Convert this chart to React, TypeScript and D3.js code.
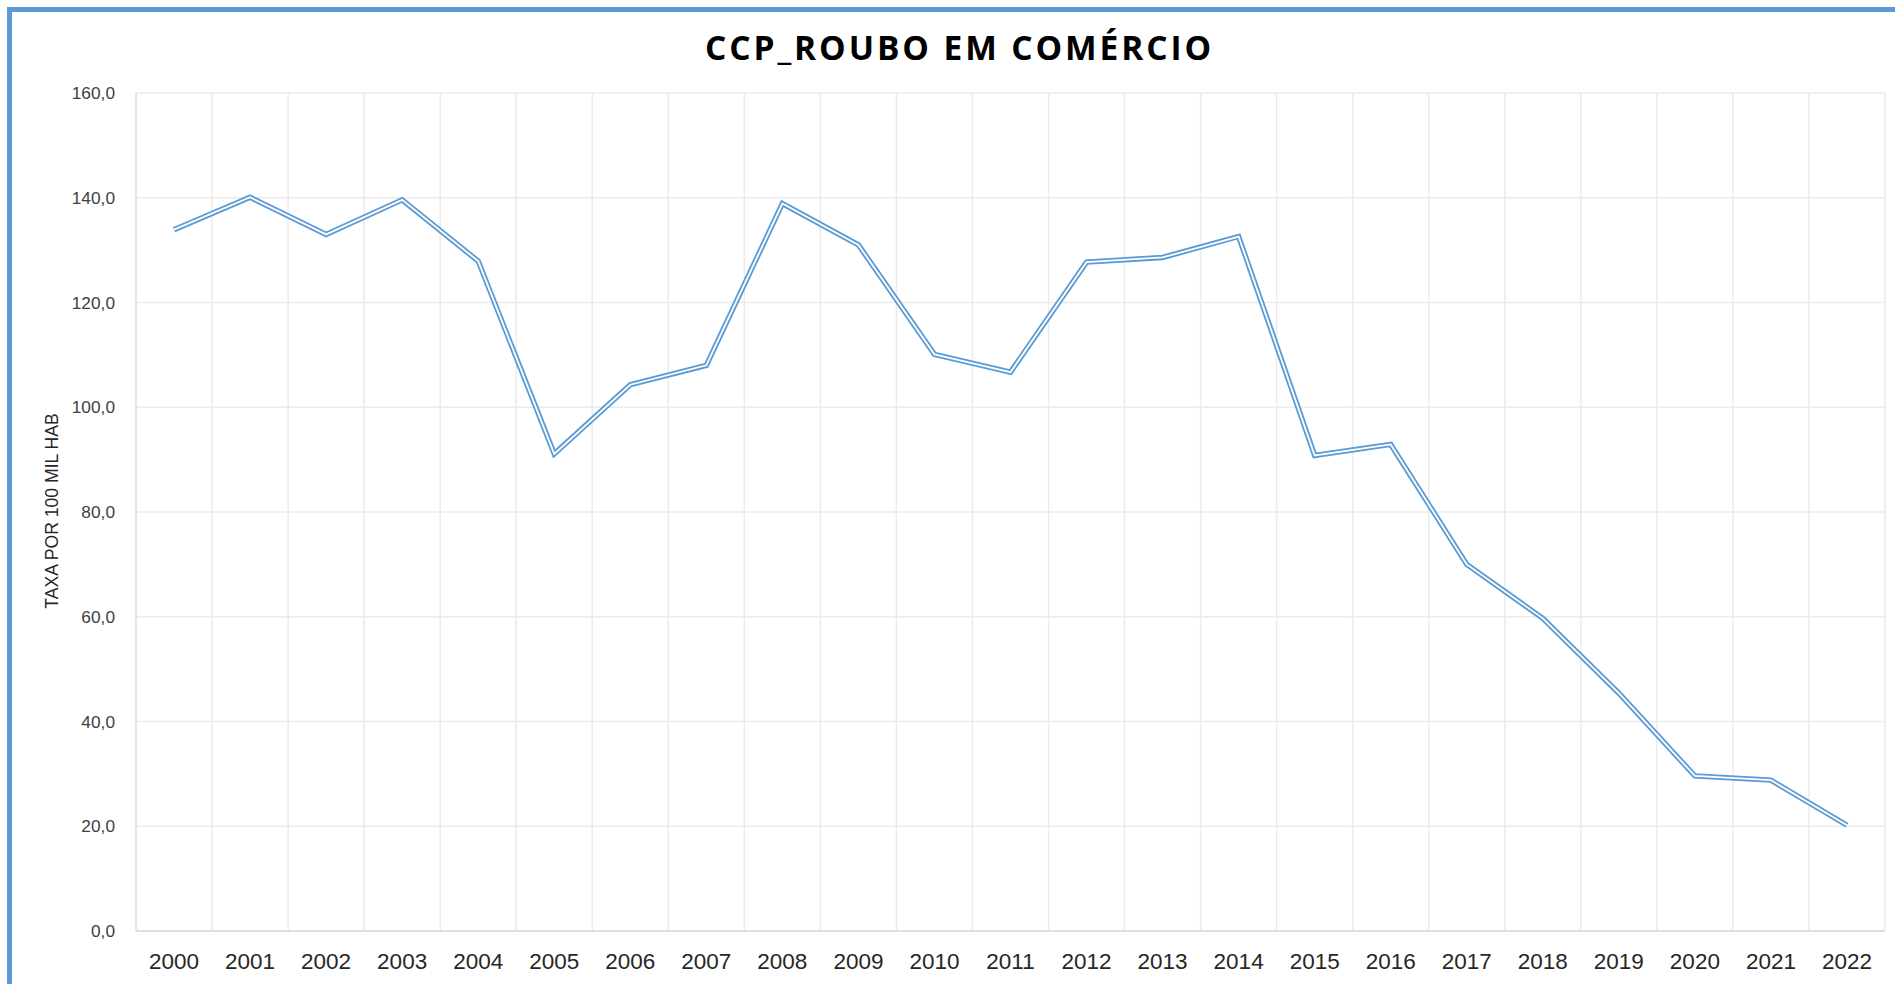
import React, { useEffect, useRef } from 'react';
import * as d3 from 'd3';

const years = [
  '2000', '2001', '2002', '2003', '2004', '2005', '2006', '2007', '2008', '2009', '2010', '2011',
  '2012', '2013', '2014', '2015', '2016', '2017', '2018', '2019', '2020', '2021', '2022',
];

const rates = [
  133.9, 140.1, 133.0, 139.6, 127.9, 91.1, 104.3, 108.0, 138.9, 131.0, 110.1, 106.7,
  127.7, 128.6, 132.6, 90.8, 92.9, 70.0, 59.7, 45.4, 29.6, 28.8, 20.2,
];

const yTicks = [0, 20, 40, 60, 80, 100, 120, 140, 160];

const chartTitle = 'CCP_ROUBO EM COMÉRCIO';
const yTitle = 'TAXA POR 100 MIL HAB';

const W = 1895;
const H = 984;

const App: React.FC = () => {
  const svgRef = useRef<SVGSVGElement>(null);

  useEffect(() => {
    document.body.style.margin = '0';
    document.body.style.overflow = 'hidden';
    if (!svgRef.current) return;

    const svg = d3.select(svgRef.current);
    svg.selectAll('*').remove();

    const left = 136, right = 1885, top = 93, bottom = 931;

    const x = d3.scaleBand<string>().domain(years).range([left, right]);
    const y = d3.scaleLinear().domain([0, 160]).range([bottom, top]);
    const fmt = d3.formatLocale({ decimal: ',', thousands: '.', grouping: [3], currency: ['R$', ''] }).format('.1f');

    svg.append('rect').attr('width', W).attr('height', H).attr('fill', '#fff');

    // frame (only top and left edges are visible in the picture)
    svg.append('rect')
      .attr('x', 9.5).attr('y', 9.5)
      .attr('width', W + 20).attr('height', H + 20)
      .attr('fill', 'none')
      .attr('stroke', '#5B9BD5')
      .attr('stroke-width', 5);

    // gridlines
    const grid = svg.append('g').attr('stroke', '#EBEBEB').attr('stroke-width', 1.5);
    grid.selectAll('line.h')
      .data(yTicks)
      .join('line')
      .attr('x1', left).attr('x2', right)
      .attr('y1', d => y(d)).attr('y2', d => y(d));
    grid.selectAll('line.v')
      .data([...years.map(d => x(d)!), right])
      .join('line')
      .attr('class', 'v')
      .attr('x1', d => d).attr('x2', d => d)
      .attr('y1', top).attr('y2', bottom);

    // axis lines
    svg.append('line')
      .attr('x1', left).attr('x2', left).attr('y1', top).attr('y2', bottom)
      .attr('stroke', '#D9D9D9').attr('stroke-width', 1);
    svg.append('line')
      .attr('x1', left).attr('x2', right).attr('y1', bottom).attr('y2', bottom)
      .attr('stroke', '#D9D9D9').attr('stroke-width', 1.5);

    // y tick labels
    svg.append('g')
      .attr('font-family', '"Liberation Sans", Arial, sans-serif')
      .attr('font-size', 17.3)
      .attr('fill', '#404040')
      .attr('text-anchor', 'end')
      .selectAll('text')
      .data(yTicks)
      .join('text')
      .attr('x', 115)
      .attr('y', d => y(d))
      .attr('dy', '0.36em')
      .text(d => fmt(d));

    // x tick labels
    svg.append('g')
      .attr('font-family', '"Liberation Sans", Arial, sans-serif')
      .attr('font-size', 22.5)
      .attr('fill', '#262626')
      .attr('text-anchor', 'middle')
      .selectAll('text')
      .data(years)
      .join('text')
      .attr('x', d => x(d)! + x.bandwidth() / 2)
      .attr('y', 969)
      .text(d => d);

    // y axis title
    svg.append('text')
      .attr('transform', 'translate(58,511) rotate(-90)')
      .attr('text-anchor', 'middle')
      .attr('font-family', '"Liberation Sans", Arial, sans-serif')
      .attr('font-size', 17.6)
      .attr('fill', '#262626')
      .text(yTitle);

    // title (letter-spacing also trails the last glyph, so nudge right by half of it)
    svg.append('text')
      .attr('x', 958 + 1.5)
      .attr('y', 60)
      .attr('text-anchor', 'middle')
      .attr('font-family', '"Open Sans", sans-serif')
      .attr('font-weight', 700)
      .attr('font-size', 33.5)
      .attr('letter-spacing', 2.9)
      .attr('fill', '#000')
      .text(chartTitle);

    // double line: blue stroke with a thin white core
    const line = d3.line<number>()
      .x((_, i) => x(years[i])! + x.bandwidth() / 2)
      .y(d => y(d));

    svg.append('path')
      .datum(rates)
      .attr('d', line)
      .attr('fill', 'none')
      .attr('stroke', '#5B9BD5')
      .attr('stroke-width', 5.4)
      .attr('stroke-linejoin', 'miter');
    svg.append('path')
      .datum(rates)
      .attr('d', line)
      .attr('fill', 'none')
      .attr('stroke', '#fff')
      .attr('stroke-width', 1.8)
      .attr('stroke-linejoin', 'miter');
  }, []);

  return <svg ref={svgRef} width={W} height={H} style={{ display: 'block' }} />;
};

export default App;
